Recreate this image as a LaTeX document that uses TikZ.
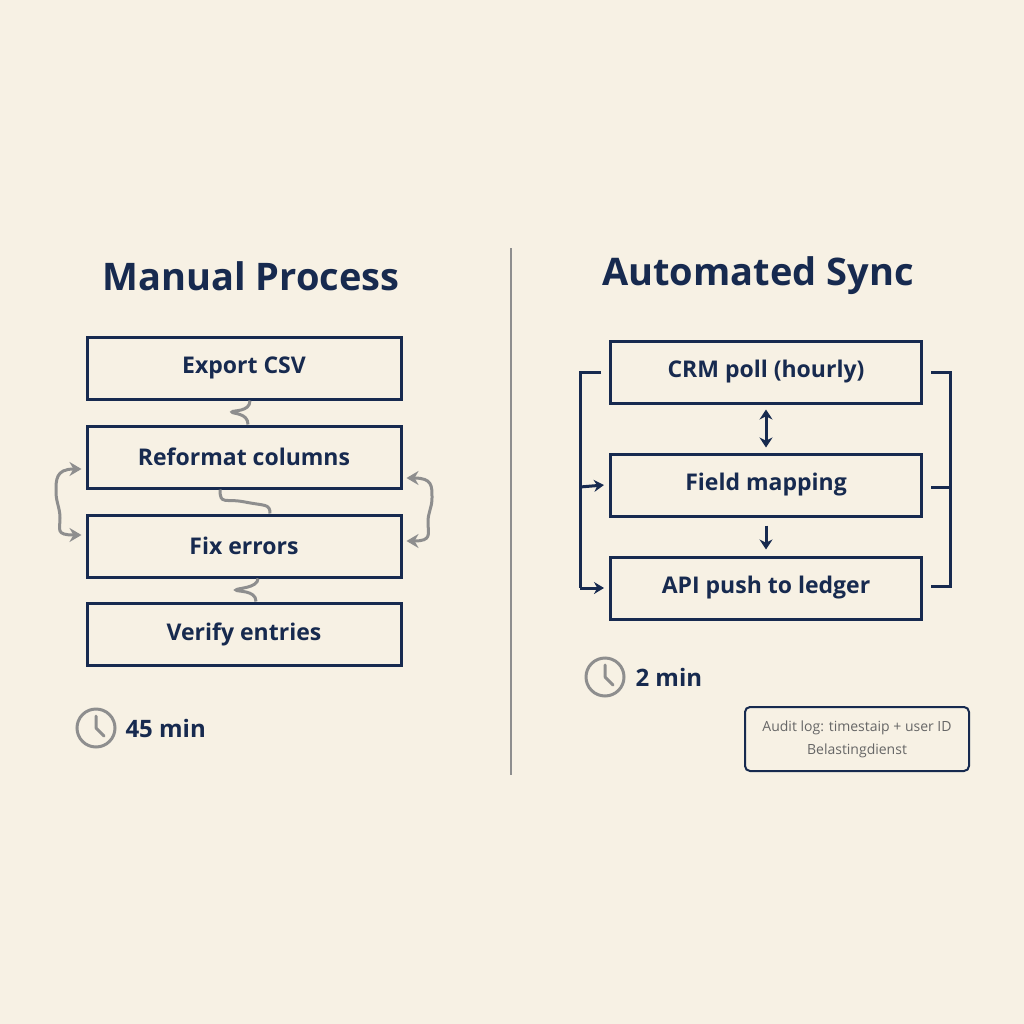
\documentclass[tikz,border=0pt]{standalone}
\usepackage{fontspec}
\setmainfont{Open Sans}
\usetikzlibrary{arrows.meta}
\definecolor{navy}{HTML}{172A4F}
\definecolor{paper}{HTML}{F7F1E4}
\definecolor{wire}{HTML}{8E8E8E}
\tikzset{
  step/.style={draw=navy,line width=3pt,fill=paper,minimum width=#1,minimum height=62pt,
    text=navy,font=\fontsize{23}{27}\selectfont\bfseries,inner sep=0pt},
  step/.default=314pt,
  title/.style={text=navy,font=\fontsize{38}{44}\selectfont\bfseries},
  squiggle/.style={draw=wire,line width=3pt},
  loopback/.style={draw=wire,line width=3pt,{Stealth[length=12pt,width=14pt]}-{Stealth[length=12pt,width=14pt]}},
  feed/.style={draw=navy,line width=3pt},
  clock/.style={circle,draw=wire,line width=3pt,minimum size=38pt,inner sep=0pt},
  timing/.style={text=navy,font=\fontsize{24}{28}\selectfont\bfseries,anchor=west},
}
\begin{document}
\begin{tikzpicture}[x=1pt,y=-1pt]
    \fill[paper] (0,0) rectangle (1024,1024);
    \useasboundingbox (0,0) rectangle (1024,1024);
    \draw[wire,line width=2pt] (511,248) -- (511,775);

    % left column
    \node (mtitle) [title] at (251,276) {Manual Process};
    \node (export) [step] at (244,368) {Export CSV};
    \node (reformat) [step] at (244,457) {Reformat columns};
    \node (fix) [step] at (244,546) {Fix errors};
    \node (verify) [step] at (244,634) {Verify entries};
    \path[squiggle] ([xshift=6pt]export.south) .. controls +(0,12) and +(0,-2) .. (232,412)
        .. controls +(0,2) and +(0,-12) .. ([xshift=4pt]reformat.north);
    \path[squiggle] ([xshift=-24pt]reformat.south) .. controls +(0,16) and +(-20,-4) .. (245,502)
        .. controls +(20,4) and +(0,-10) .. ([xshift=26pt]fix.north);
    \path[squiggle] ([xshift=14pt]fix.south) .. controls +(0,10) and +(0,-2) .. (236,590)
        .. controls +(0,2) and +(0,-12) .. ([xshift=12pt]verify.north);
    \path[loopback] ([xshift=-4pt,yshift=-12pt]reformat.west) .. controls +(-26,0) and +(0,-12) .. (56,492)
        .. controls +(0,10) and +(0,-10) .. (60,518)
        .. controls +(0,12) and +(-26,0) .. ([xshift=-4pt,yshift=11pt]fix.west);
    \path[loopback] ([xshift=4pt,yshift=-21pt]reformat.east) .. controls +(26,0) and +(0,-12) .. (432,498)
        .. controls +(0,10) and +(0,-10) .. (428,522)
        .. controls +(0,12) and +(26,0) .. ([xshift=4pt,yshift=5pt]fix.east);
    \node (mclock) [clock] at (96,728) {};
    \draw[wire,line width=3pt,line cap=round] (mclock.center) -- +(0,-12) (mclock.center) -- +(8,8);
    \node (mtime) [timing] at (122,728) {45 min};

    % right column
    \node (atitle) [title] at (758,276) {Automated Sync};
    \node (poll) [step=311pt] at (766,372) {CRM poll (hourly)};
    \node (mapping) [step=311pt] at (766,485) {Field mapping};
    \node (push) [step=311pt] at (766,588) {API push to ledger};
    \draw[feed,{Stealth[length=10pt,width=13pt]}-{Stealth[length=10pt,width=13pt]}]
        ([yshift=-5pt]poll.south) -- ([yshift=5pt]mapping.north);
    \draw[feed,-{Stealth[length=10pt,width=13pt]}] ([yshift=-8pt]mapping.south) -- ([yshift=6pt]push.north);
    \draw[feed] ([xshift=-8pt]poll.west) -| (580,588);
    \draw[feed,-{Stealth[length=10pt,width=12pt]}] (580,487) -- ([xshift=-5pt]mapping.west);
    \draw[feed,-{Stealth[length=10pt,width=12pt]}] (580,588) -- ([xshift=-5pt]push.west);
    \draw[feed] ([xshift=8pt]poll.east) -| (950,586) -- ([xshift=8pt,yshift=2pt]push.east);
    \draw[feed] ([xshift=8pt,yshift=-2pt]mapping.east) -- (950,487);
    \node (aclock) [clock] at (605,677) {};
    \draw[wire,line width=3pt,line cap=round] (aclock.center) -- +(0,-12) (aclock.center) -- +(8,8);
    \node (atime) [timing] at (632,677) {2 min};
    \node (audit) [draw=navy,line width=2pt,rounded corners=5pt,minimum width=224pt,minimum height=64pt,
        text=black!60,align=center,font=\fontsize{14}{23}\selectfont] at (857,739)
        {Audit log: timestaip + user ID\\Belastingdienst};
\end{tikzpicture}
\end{document}
